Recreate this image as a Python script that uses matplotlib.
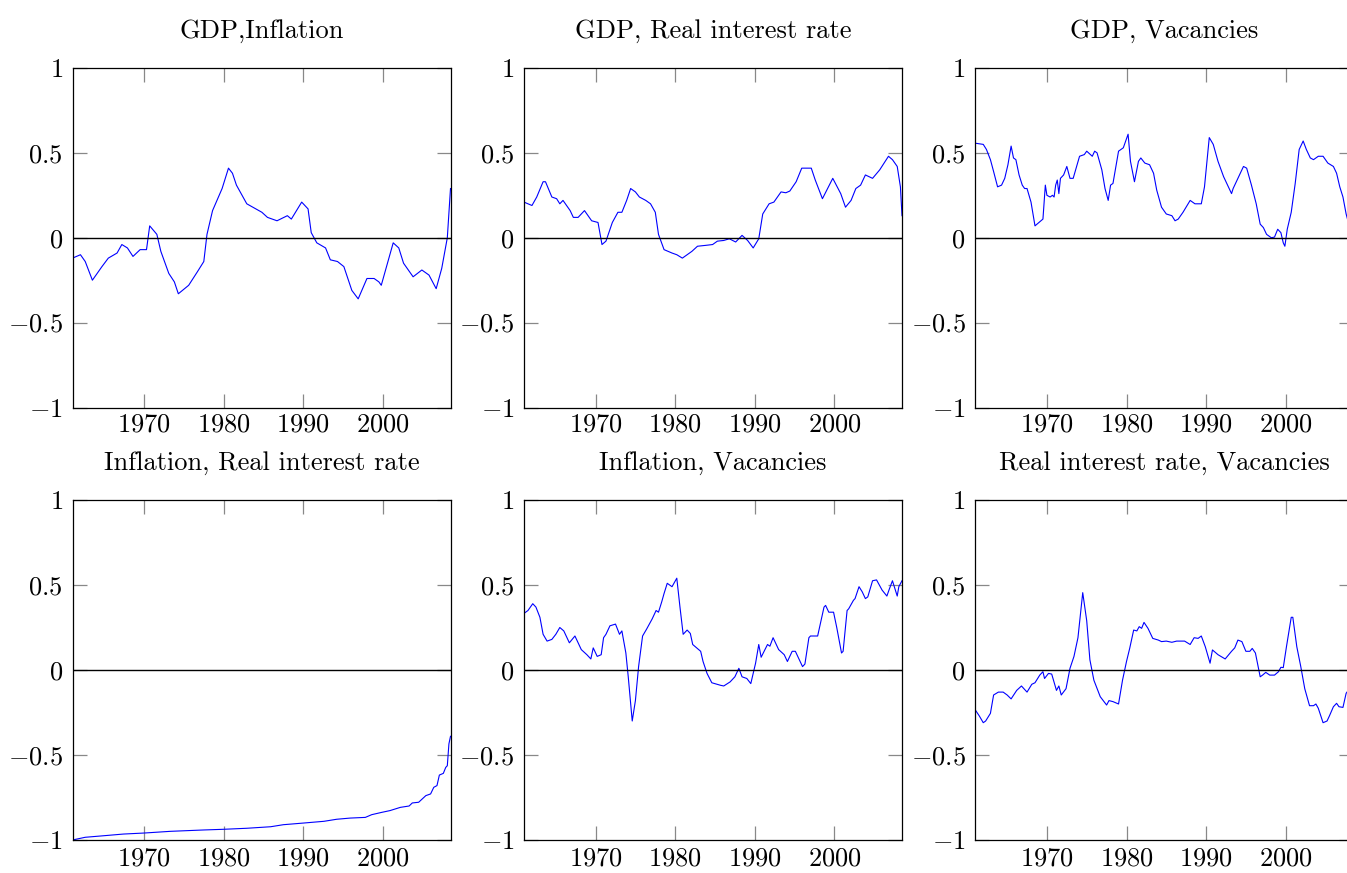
import matplotlib
matplotlib.use("Agg")
import matplotlib.pyplot as plt

plt.rcParams['font.family'] = 'cmr10'
plt.rcParams['mathtext.fontset'] = 'cm'
plt.rcParams['axes.formatter.use_mathtext'] = True
plt.rcParams['axes.unicode_minus'] = True

# rolling correlations (year, value)
gdp_infl_x = [1961.0, 1962.0, 1962.6, 1963.5, 1964.7, 1965.5, 1966.6, 1967.2, 1967.9, 1968.6,
              1969.5, 1970.3, 1970.7, 1971.6, 1972.1, 1973.1, 1973.8, 1974.3, 1975.6, 1976.7,
              1977.5, 1977.9, 1978.6, 1979.8, 1980.6, 1981.1, 1981.6, 1982.9, 1984.8, 1985.5,
              1986.7, 1988.0, 1988.5, 1989.8, 1990.6, 1991.0, 1991.7, 1992.8, 1993.4, 1994.3,
              1995.1, 1996.1, 1996.9, 1998.0, 1998.9, 1999.5, 1999.8, 2001.3, 2002.0, 2002.6,
              2003.8, 2004.9, 2005.8, 2006.7, 2007.4, 2008.1, 2008.5]
gdp_infl_y = [-0.12, -0.10, -0.14, -0.25, -0.17, -0.12, -0.09, -0.04, -0.06, -0.11,
              -0.07, -0.07, 0.07, 0.02, -0.08, -0.21, -0.26, -0.33, -0.28, -0.20,
              -0.14, 0.02, 0.16, 0.29, 0.41, 0.38, 0.31, 0.20, 0.15, 0.12,
              0.10, 0.13, 0.11, 0.21, 0.17, 0.03, -0.03, -0.06, -0.13, -0.14,
              -0.17, -0.31, -0.36, -0.24, -0.24, -0.26, -0.28, -0.03, -0.06, -0.15,
              -0.23, -0.19, -0.22, -0.30, -0.18, 0.0, 0.29]

gdp_rate_x = [1961.0, 1962.0, 1962.6, 1963.4, 1963.7, 1964.5, 1965.1, 1965.5, 1965.9, 1966.8,
              1967.2, 1967.8, 1968.6, 1969.5, 1970.3, 1970.8, 1971.3, 1972.1, 1972.8, 1973.3,
              1973.9, 1974.4, 1975.0, 1975.5, 1976.3, 1976.9, 1977.5, 1977.9, 1978.6, 1979.6,
              1980.2, 1980.9, 1981.5, 1982.1, 1982.8, 1983.8, 1984.7, 1985.3, 1986.1, 1986.8,
              1987.6, 1988.4, 1989.1, 1989.8, 1990.5, 1991.0, 1991.8, 1992.4, 1993.3, 1993.9,
              1994.4, 1995.2, 1995.9, 1996.4, 1997.1, 1997.6, 1998.5, 1999.8, 2000.8, 2001.4,
              2002.1, 2002.7, 2003.3, 2003.9, 2004.8, 2005.7, 2006.8, 2007.3, 2007.9, 2008.3, 2008.5]
gdp_rate_y = [0.21, 0.19, 0.24, 0.33, 0.33, 0.24, 0.23, 0.20, 0.22, 0.16,
              0.12, 0.12, 0.16, 0.10, 0.09, -0.04, -0.02, 0.09, 0.15, 0.15,
              0.22, 0.29, 0.27, 0.24, 0.22, 0.20, 0.15, 0.02, -0.07, -0.09,
              -0.10, -0.12, -0.10, -0.08, -0.05, -0.045, -0.04, -0.02, -0.016, -0.006,
              -0.025, 0.014, -0.016, -0.06, -0.006, 0.14, 0.20, 0.21, 0.27, 0.265,
              0.275, 0.33, 0.41, 0.41, 0.41, 0.34, 0.23, 0.35, 0.26, 0.18,
              0.22, 0.29, 0.31, 0.37, 0.35, 0.40, 0.48, 0.46, 0.42, 0.30, 0.13]

gdp_vac_x = [1961.0, 1962.0, 1962.4, 1962.9, 1963.3, 1963.8, 1964.3, 1964.7, 1965.1, 1965.5,
             1965.8, 1966.1, 1966.5, 1966.9, 1967.2, 1967.5, 1968.0, 1968.5, 1969.5, 1969.8,
             1970.0, 1970.4, 1970.7, 1970.9, 1971.1, 1971.3, 1971.5, 1971.7, 1972.1, 1972.5,
             1972.9, 1973.3, 1974.1, 1974.7, 1975.0, 1975.7, 1976.0, 1976.3, 1976.9, 1977.3,
             1977.7, 1978.0, 1978.3, 1979.0, 1979.6, 1980.2, 1980.5, 1981.0, 1981.5, 1981.8,
             1982.3, 1982.9, 1983.4, 1983.8, 1984.4, 1985.0, 1985.7, 1986.1, 1986.5, 1987.1,
             1988.0, 1988.6, 1989.4, 1989.8, 1990.4, 1990.9, 1991.5, 1992.2, 1992.8, 1993.2,
             1993.4, 1994.0, 1994.7, 1995.1, 1995.7, 1996.3, 1996.8, 1997.2, 1997.6, 1998.2,
             1998.6, 1999.0, 1999.4, 1999.7, 1999.9, 2000.2, 2000.7, 2001.2, 2001.7, 2002.2,
             2002.6, 2003.1, 2003.5, 2004.1, 2004.7, 2005.3, 2006.0, 2006.4, 2006.8, 2007.2,
             2007.6, 2008.5]
gdp_vac_y = [0.557, 0.55, 0.52, 0.46, 0.39, 0.30, 0.31, 0.35, 0.43, 0.54,
             0.47, 0.46, 0.37, 0.31, 0.29, 0.29, 0.21, 0.07, 0.11, 0.31,
             0.25, 0.24, 0.25, 0.24, 0.31, 0.34, 0.26, 0.35, 0.37, 0.42,
             0.35, 0.35, 0.48, 0.49, 0.51, 0.48, 0.51, 0.50, 0.40, 0.29,
             0.22, 0.31, 0.32, 0.51, 0.53, 0.61, 0.45, 0.33, 0.45, 0.47,
             0.44, 0.43, 0.38, 0.28, 0.18, 0.14, 0.13, 0.10, 0.11, 0.15,
             0.22, 0.20, 0.20, 0.30, 0.59, 0.55, 0.45, 0.36, 0.30, 0.26,
             0.29, 0.35, 0.42, 0.41, 0.31, 0.20, 0.08, 0.06, 0.02, 0.0,
             0.004, 0.05, 0.03, -0.03, -0.05, 0.05, 0.15, 0.32, 0.52, 0.57,
             0.52, 0.47, 0.46, 0.48, 0.48, 0.44, 0.42, 0.38, 0.30, 0.24,
             0.14, -0.02]

infl_rate_x = [1961.0, 1962.6, 1964.9, 1967.4, 1970.0, 1973.3, 1977.5, 1980.0, 1982.9, 1985.9,
               1987.5, 1990.1, 1992.6, 1994.2, 1995.9, 1997.8, 1998.6, 1999.9, 2000.9, 2002.2,
               2003.3, 2003.7, 2004.5, 2005.4, 2006.0, 2006.4, 2006.8, 2007.1, 2007.6, 2007.9,
               2008.1, 2008.3, 2008.5]
infl_rate_y = [-1.0, -0.984, -0.975, -0.965, -0.959, -0.949, -0.941, -0.937, -0.931, -0.922,
               -0.91, -0.90, -0.89, -0.878, -0.871, -0.867, -0.851, -0.837, -0.827, -0.808,
               -0.80, -0.782, -0.778, -0.739, -0.729, -0.69, -0.68, -0.618, -0.608, -0.573,
               -0.563, -0.435, -0.39]

infl_vac_x = [1961.0, 1961.5, 1962.1, 1962.5, 1963.0, 1963.4, 1963.9, 1964.5, 1965.0, 1965.5,
              1966.0, 1966.7, 1967.4, 1968.2, 1968.9, 1969.4, 1969.7, 1970.2, 1970.7, 1971.0,
              1971.3, 1971.8, 1972.5, 1973.0, 1973.3, 1973.8, 1974.1, 1974.6, 1975.0, 1975.4,
              1975.9, 1976.4, 1977.1, 1977.6, 1977.9, 1978.3, 1978.6, 1979.0, 1979.6, 1980.2,
              1980.6, 1981.0, 1981.5, 1981.9, 1982.2, 1983.2, 1983.5, 1984.0, 1984.6, 1985.7,
              1986.1, 1986.9, 1987.5, 1988.0, 1988.4, 1989.0, 1989.5, 1990.1, 1990.5, 1990.8,
              1991.6, 1991.9, 1992.3, 1993.0, 1993.7, 1994.1, 1994.7, 1995.1, 1996.0, 1996.3,
              1996.8, 1997.0, 1997.9, 1998.7, 1998.9, 1999.3, 1999.9, 2000.3, 2000.9, 2001.1,
              2001.6, 2001.8, 2002.4, 2002.6, 2003.1, 2003.5, 2003.9, 2004.2, 2004.8, 2005.3,
              2006.0, 2006.6, 2006.9, 2007.3, 2007.9, 2008.1, 2008.5]
infl_vac_y = [0.333, 0.35, 0.39, 0.37, 0.31, 0.21, 0.17, 0.18, 0.21, 0.25,
              0.23, 0.16, 0.20, 0.12, 0.09, 0.065, 0.13, 0.08, 0.09, 0.19,
              0.21, 0.26, 0.27, 0.21, 0.23, 0.10, -0.04, -0.30, -0.18, 0.02,
              0.20, 0.24, 0.30, 0.35, 0.34, 0.40, 0.45, 0.51, 0.49, 0.54,
              0.37, 0.21, 0.235, 0.215, 0.15, 0.11, 0.05, -0.02, -0.075, -0.09,
              -0.094, -0.07, -0.04, 0.01, -0.04, -0.05, -0.08, 0.04, 0.15, 0.075,
              0.15, 0.14, 0.19, 0.12, 0.09, 0.05, 0.11, 0.11, 0.02, 0.035,
              0.19, 0.20, 0.20, 0.37, 0.38, 0.34, 0.34, 0.25, 0.10, 0.11,
              0.35, 0.36, 0.41, 0.42, 0.49, 0.46, 0.42, 0.43, 0.525, 0.53,
              0.47, 0.435, 0.475, 0.525, 0.435, 0.49, 0.525]

rate_vac_x = [1961.0, 1961.5, 1962.0, 1962.3, 1962.9, 1963.3, 1963.9, 1964.5, 1965.0, 1965.5,
              1966.2, 1966.8, 1967.5, 1968.1, 1968.5, 1969.1, 1969.5, 1969.7, 1970.2, 1970.6,
              1971.2, 1971.5, 1971.8, 1972.4, 1972.9, 1973.4, 1973.9, 1974.5, 1975.0, 1975.4,
              1975.9, 1976.7, 1977.5, 1977.8, 1978.3, 1979.0, 1979.5, 1980.0, 1980.4, 1980.9,
              1981.3, 1981.6, 1981.9, 1982.2, 1982.7, 1983.3, 1984.0, 1984.4, 1985.0, 1985.7,
              1986.3, 1987.3, 1988.0, 1988.5, 1989.0, 1989.4, 1989.9, 1990.5, 1990.8, 1991.5,
              1992.4, 1993.2, 1993.6, 1994.0, 1994.5, 1995.0, 1995.5, 1995.8, 1996.2, 1996.8,
              1997.1, 1997.5, 1998.0, 1998.6, 1999.1, 1999.4, 1999.7, 2000.1, 2000.7, 2000.9,
              2001.4, 2001.9, 2002.4, 2003.0, 2003.5, 2003.8, 2004.1, 2004.7, 2005.2, 2005.5,
              2006.0, 2006.4, 2006.7, 2007.2, 2007.6, 2008.5]
rate_vac_y = [-0.235, -0.27, -0.31, -0.30, -0.255, -0.147, -0.13, -0.13, -0.147, -0.17,
              -0.12, -0.094, -0.13, -0.084, -0.075, -0.03, -0.01, -0.05, -0.02, -0.024,
              -0.12, -0.094, -0.147, -0.11, 0.01, 0.08, 0.19, 0.455, 0.29, 0.06,
              -0.06, -0.157, -0.206, -0.18, -0.186, -0.20, -0.06, 0.05, 0.127, 0.235,
              0.23, 0.255, 0.245, 0.28, 0.245, 0.186, 0.176, 0.167, 0.17, 0.163,
              0.17, 0.17, 0.15, 0.19, 0.186, 0.20, 0.137, 0.04, 0.118, 0.09,
              0.065, 0.11, 0.13, 0.176, 0.167, 0.11, 0.11, 0.127, 0.10, -0.04,
              -0.03, -0.014, -0.03, -0.03, -0.01, 0.016, 0.014, 0.137, 0.31, 0.31,
              0.137, 0.02, -0.11, -0.21, -0.21, -0.20, -0.225, -0.31, -0.30, -0.27,
              -0.216, -0.196, -0.216, -0.22, -0.137, -0.08]

panels = [
    ("GDP,Inflation", gdp_infl_x, gdp_infl_y),
    ("GDP, Real interest rate", gdp_rate_x, gdp_rate_y),
    ("GDP, Vacancies", gdp_vac_x, gdp_vac_y),
    ("Inflation, Real interest rate", infl_rate_x, infl_rate_y),
    ("Inflation, Vacancies", infl_vac_x, infl_vac_y),
    ("Real interest rate, Vacancies", rate_vac_x, rate_vac_y),
]

year_ticks = [1970, 1980, 1990, 2000]
corr_ticks = [-1, -0.5, 0, 0.5, 1]
corr_labels = [r'$\mathdefault{-1}$', r'$\mathdefault{-0.5}$', r'$\mathdefault{0}$',
               r'$\mathdefault{0.5}$', r'$\mathdefault{1}$']

W, H = 1347, 873
fig = plt.figure(figsize=(W / 100, H / 100), dpi=100)

# axes boxes in pixels (third column runs off the page, as in the original)
lefts = [72.5, 524, 975.3]
aw = 378
rows = [(68, 407.5), (500, 840)]
xpads = [4, 5]

for i, (title, xs, ys) in enumerate(panels):
    r, c = divmod(i, 3)
    top, bot = rows[r]
    ax = fig.add_axes([lefts[c] / W, 1 - bot / H, aw / W, (bot - top) / H])
    ax.plot(xs, ys, color='blue', lw=0.8)
    ax.axhline(0, color='black', lw=1.0)
    ax.set_xlim(1961, 2008.5)
    ax.set_ylim(-1, 1)
    ax.set_xticks(year_ticks)
    ax.set_yticks(corr_ticks)
    ax.set_yticklabels(corr_labels)
    ax.tick_params(direction='in', top=True, right=True, length=10, width=0.9,
                   color='#888888', labelsize=19)
    ax.tick_params(axis='y', pad=7)
    ax.tick_params(axis='x', pad=xpads[r])
    for sp in ax.spines.values():
        sp.set_linewidth(0.9)
    ax.set_title(title, fontsize=19, pad=22)

fig.savefig("out.png", dpi=100)
